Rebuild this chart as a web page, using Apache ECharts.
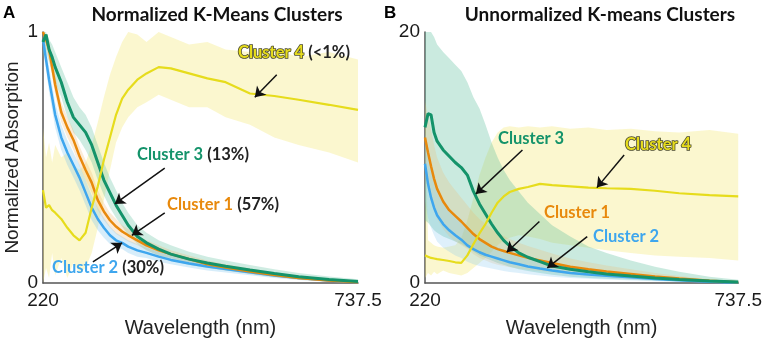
<!DOCTYPE html>
<html>
<head>
<meta charset="utf-8">
<script src="https://cdn.jsdelivr.net/npm/echarts@6/dist/echarts.min.js"></script>
<style>
  html, body { margin: 0; padding: 0; background: #fff; }
  #chart { width: 765px; height: 344px; }
</style>
</head>
<body>
<div id="chart"></div>
<script>
// wavelength grid (nm), shared by both panels
const wl = [220, 225, 230, 235, 240, 250, 260, 270, 280, 290, 300, 310, 320, 330, 340, 350, 360, 375, 390, 410, 430, 460, 490, 520, 560, 600, 640, 690, 737.5];
const xTicks = [220, 737.5];
const yTicksA = [0, 1];
const yTicksB = [0, 20];

// panel A - normalized means and bands
const c1A = [1.0, 0.97, 0.93, 0.86, 0.79, 0.68, 0.62, 0.57, 0.505, 0.45, 0.40, 0.33, 0.285, 0.25, 0.225, 0.205, 0.19, 0.17, 0.15, 0.13, 0.115, 0.095, 0.075, 0.062, 0.046, 0.032, 0.02, 0.01, 0.003];
const c1AHi = [1.0, 0.99, 0.96, 0.90, 0.83, 0.72, 0.66, 0.61, 0.545, 0.49, 0.44, 0.37, 0.32, 0.28, 0.255, 0.23, 0.215, 0.19, 0.17, 0.15, 0.13, 0.11, 0.09, 0.075, 0.058, 0.042, 0.028, 0.016, 0.008];
const c1ALo = [0.96, 0.94, 0.89, 0.82, 0.75, 0.64, 0.58, 0.53, 0.465, 0.41, 0.36, 0.29, 0.25, 0.22, 0.195, 0.18, 0.165, 0.15, 0.13, 0.11, 0.10, 0.08, 0.062, 0.05, 0.036, 0.024, 0.013, 0.005, 0.0];

const c2A = [0.97, 0.89, 0.81, 0.74, 0.67, 0.58, 0.52, 0.47, 0.42, 0.36, 0.30, 0.255, 0.22, 0.19, 0.17, 0.16, 0.145, 0.13, 0.12, 0.105, 0.092, 0.078, 0.066, 0.056, 0.043, 0.03, 0.02, 0.01, 0.003];
const c2AHi = [1.0, 0.93, 0.86, 0.79, 0.72, 0.63, 0.57, 0.52, 0.47, 0.41, 0.35, 0.30, 0.26, 0.225, 0.20, 0.185, 0.17, 0.155, 0.14, 0.125, 0.11, 0.095, 0.082, 0.07, 0.055, 0.04, 0.028, 0.016, 0.008];
const c2ALo = [0.93, 0.85, 0.76, 0.69, 0.62, 0.53, 0.47, 0.42, 0.37, 0.31, 0.25, 0.21, 0.18, 0.155, 0.14, 0.135, 0.12, 0.105, 0.10, 0.085, 0.075, 0.062, 0.05, 0.042, 0.031, 0.02, 0.012, 0.005, 0.0];

const c3A = [0.96, 0.99, 0.93, 0.90, 0.86, 0.80, 0.72, 0.66, 0.63, 0.60, 0.55, 0.48, 0.41, 0.36, 0.31, 0.27, 0.23, 0.185, 0.16, 0.135, 0.115, 0.095, 0.08, 0.067, 0.052, 0.038, 0.025, 0.014, 0.006];
const c3AHi = [1.0, 1.0, 0.97, 0.95, 0.92, 0.86, 0.80, 0.74, 0.70, 0.67, 0.62, 0.55, 0.48, 0.42, 0.37, 0.32, 0.28, 0.23, 0.20, 0.17, 0.15, 0.125, 0.105, 0.09, 0.072, 0.055, 0.04, 0.026, 0.015];
const c3ALo = [0.90, 0.92, 0.88, 0.84, 0.80, 0.74, 0.66, 0.60, 0.57, 0.53, 0.48, 0.41, 0.35, 0.30, 0.26, 0.225, 0.19, 0.155, 0.13, 0.11, 0.09, 0.072, 0.06, 0.05, 0.037, 0.025, 0.015, 0.007, 0.0];

const c4A = [0.37, 0.30, 0.31, 0.29, 0.28, 0.255, 0.22, 0.19, 0.17, 0.20, 0.30, 0.385, 0.49, 0.58, 0.67, 0.735, 0.77, 0.81, 0.835, 0.86, 0.855, 0.835, 0.815, 0.80, 0.755, 0.745, 0.73, 0.71, 0.69];
const c4AHi = [0.62, 0.50, 0.56, 0.48, 0.55, 0.50, 0.52, 0.47, 0.45, 0.48, 0.55, 0.64, 0.74, 0.83, 0.90, 0.96, 1.0, 0.99, 0.96, 1.0, 0.98, 0.95, 0.96, 0.93, 0.92, 0.93, 0.90, 0.92, 0.89];
const c4ALo = [0.0, 0.06, 0.02, 0.12, 0.03, 0.10, 0.02, 0.08, 0.04, 0.06, 0.12, 0.22, 0.33, 0.45, 0.56, 0.62, 0.66, 0.70, 0.72, 0.75, 0.73, 0.70, 0.70, 0.66, 0.63, 0.58, 0.55, 0.52, 0.48];

// panel B - unnormalized means and bands
const c1B = [11.6, 10.4, 9.3, 8.3, 7.5, 6.5, 5.8, 5.35, 4.9, 4.4, 3.9, 3.5, 3.2, 2.9, 2.7, 2.55, 2.4, 2.2, 2.0, 1.8, 1.6, 1.3, 1.1, 0.92, 0.72, 0.52, 0.35, 0.18, 0.05];
const c1BHi = [14.5, 13.3, 12.2, 11.0, 10.0, 8.8, 8.0, 7.4, 6.8, 6.2, 5.6, 5.1, 4.7, 4.3, 4.0, 3.75, 3.5, 3.2, 2.95, 2.65, 2.35, 1.95, 1.65, 1.4, 1.1, 0.8, 0.55, 0.3, 0.1];
const c1BLo = [8.5, 7.5, 6.5, 5.8, 5.1, 4.3, 3.7, 3.3, 3.0, 2.7, 2.3, 2.0, 1.8, 1.6, 1.45, 1.35, 1.25, 1.15, 1.05, 0.95, 0.85, 0.7, 0.58, 0.48, 0.36, 0.25, 0.15, 0.07, 0.0];

const c2B = [9.5, 7.9, 6.8, 6.0, 5.4, 4.7, 4.2, 3.8, 3.45, 3.0, 2.7, 2.45, 2.25, 2.1, 1.95, 1.8, 1.65, 1.5, 1.32, 1.15, 1.0, 0.8, 0.68, 0.58, 0.45, 0.32, 0.22, 0.1, 0.02];
const c2BHi = [12.0, 10.5, 9.2, 8.2, 7.5, 6.6, 5.9, 5.4, 4.9, 4.4, 4.0, 3.6, 3.3, 3.05, 2.85, 2.65, 2.45, 2.2, 2.0, 1.75, 1.55, 1.25, 1.05, 0.9, 0.7, 0.5, 0.35, 0.18, 0.06];
const c2BLo = [6.5, 5.2, 4.4, 3.8, 3.3, 2.8, 2.5, 2.2, 2.0, 1.7, 1.5, 1.35, 1.25, 1.15, 1.05, 0.95, 0.88, 0.8, 0.7, 0.6, 0.5, 0.4, 0.33, 0.27, 0.2, 0.14, 0.09, 0.04, 0.0];

const c3B = [12.4, 13.5, 13.4, 12.0, 11.3, 10.6, 10.1, 9.6, 9.2, 8.6, 7.3, 6.3, 5.5, 4.7, 4.0, 3.4, 2.95, 2.4, 2.05, 1.7, 1.35, 1.1, 0.9, 0.72, 0.55, 0.4, 0.28, 0.16, 0.08];
const c3BHi = [20, 20, 20, 19.6, 19.0, 18.4, 17.9, 17.4, 16.9, 16.0, 14.8, 13.9, 12.6, 11.2, 10.0, 9.0, 8.2, 7.3, 6.4, 5.5, 4.6, 3.7, 2.9, 2.4, 1.8, 1.3, 0.9, 0.5, 0.25];
const c3BLo = [5.0, 4.8, 4.5, 4.2, 4.0, 3.7, 3.5, 3.3, 3.1, 2.8, 2.5, 2.2, 2.0, 1.8, 1.6, 1.45, 1.3, 1.1, 0.95, 0.8, 0.65, 0.5, 0.4, 0.33, 0.25, 0.18, 0.12, 0.06, 0.0];

const c4B = [2.2, 2.1, 2.0, 1.95, 1.9, 1.83, 1.75, 1.65, 1.6, 2.2, 3.1, 3.95, 4.7, 5.6, 6.4, 6.9, 7.25, 7.5, 7.65, 7.9, 7.8, 7.7, 7.6, 7.55, 7.5, 7.35, 7.15, 7.0, 6.9];
const c4BHi = [14.8, 3.4, 3.2, 3.0, 2.9, 2.8, 2.9, 3.0, 3.6, 5.0, 6.8, 8.6, 10.0, 11.2, 12.0, 12.4, 12.5, 12.4, 12.5, 12.4, 12.5, 12.3, 12.4, 12.2, 12.3, 12.1, 12.0, 12.2, 11.9];
const c4BLo = [0.4, 0.8, 0.6, 0.9, 0.7, 1.0, 0.8, 0.7, 0.6, 0.8, 1.2, 1.6, 2.0, 2.5, 3.0, 3.4, 3.6, 3.8, 3.7, 3.5, 3.2, 3.0, 2.8, 2.6, 2.4, 2.2, 2.1, 2.0, 1.8];

// annotation arrows [from, to] in data coords
const arrowsA = {
  c4: [[604, 0.83], [568, 0.74]],
  c3: [[420, 0.458], [338, 0.315]],
  c1: [[420, 0.279], [366, 0.19]],
  c2: [[302, 0.084], [350, 0.16]]
};
const arrowsB = {
  c3: [[381, 10.6], [304, 7.1]],
  c4: [[549, 10.2], [504, 7.6]],
  c1: [[409, 4.9], [355, 2.45]],
  c2: [[488, 3.7], [422, 1.2]]
};

const COL = { c1: '#e8890c', c2: '#3ea6ee', c3: '#14936a', c4: '#e6dc1c' };
const BAND = { c1: '#f0b060', c2: '#7cc4f0', c3: '#5fbf9f', c4: '#f2e66b' };

const chart = echarts.init(document.getElementById('chart'));

function band(idx, lo, hi, color, op) {
  return {
    type: 'custom', xAxisIndex: idx, yAxisIndex: idx, silent: true, z: 1, clip: true,
    data: wl.map((w, i) => [w, lo[i], hi[i]]),
    encode: { x: 0, y: [1, 2] },
    renderItem: function (params, api) {
      if (params.dataIndex !== 0) return;
      const pts = [];
      for (let i = 0; i < wl.length; i++) pts.push(api.coord([wl[i], hi[i]]));
      for (let i = wl.length - 1; i >= 0; i--) pts.push(api.coord([wl[i], lo[i]]));
      return { type: 'polygon', shape: { points: pts }, style: { fill: color, opacity: op } };
    }
  };
}

function mean(idx, vals, color, width, arrow) {
  return {
    type: 'line', xAxisIndex: idx, yAxisIndex: idx, z: 3,
    data: wl.map((w, i) => [w, vals[i]]),
    showSymbol: false, smooth: false,
    lineStyle: { color: color, width: width },
    markLine: {
      silent: true, symbol: ['none', 'arrow'], symbolSize: 10,
      label: { show: false },
      lineStyle: { color: '#111', width: 1.5, type: 'solid' },
      data: [[{ coord: arrow[0] }, { coord: arrow[1] }]]
    }
  };
}

function xAx(idx) {
  return {
    gridIndex: idx, type: 'value', min: 220, max: 737.5,
    axisLine: { show: true, onZero: false, lineStyle: { color: '#555', width: 1.5 } },
    axisTick: { show: false }, splitLine: { show: false },
    axisLabel: { customValues: xTicks, color: '#1a1a1a', fontSize: 19, fontFamily: 'Liberation Sans', margin: 8 },
    name: 'Wavelength (nm)', nameLocation: 'middle', nameGap: 35,
    nameTextStyle: { fontSize: 20, color: '#222', fontFamily: 'Liberation Sans' }
  };
}

function yAx(idx, max, ticks, name) {
  return {
    gridIndex: idx, type: 'value', min: 0, max: max,
    axisLine: { show: true, onZero: false, lineStyle: { color: '#555', width: 1.5 } },
    axisTick: { show: false }, splitLine: { show: false },
    axisLabel: { customValues: ticks, color: '#1a1a1a', fontSize: 19, fontFamily: 'Liberation Sans', margin: 5 },
    name: name, nameLocation: 'middle', nameGap: 21,
    nameTextStyle: { fontSize: 19, color: '#222', fontFamily: 'Liberation Sans' }
  };
}

const lbl = { fontFamily: 'Lato', fontWeight: 'bold', fontSize: 16.5 };
function tag(x, y, key, extra) {
  const rich = {
    c: Object.assign({ fill: COL[key] }, lbl),
    k: Object.assign({ fill: '#222' }, lbl)
  };
  if (key === 'c4') { rich.c.stroke = '#4a4a30'; rich.c.lineWidth = 1.6; }
  return {
    type: 'text', x: x, y: y, z: 100,
    style: { text: '{c|Cluster ' + key.slice(1) + '}' + (extra ? '{k| ' + extra + '}' : ''), rich: rich, verticalAlign: 'middle', align: 'left' }
  };
}

const titleFont = { fontFamily: 'Lato', fontWeight: 'bold', fontSize: 19, fill: '#111' };

chart.setOption({
  animation: false,
  grid: [
    { left: 43, top: 32, width: 315, height: 251 },
    { left: 425, top: 32, width: 315, height: 251 }
  ],
  xAxis: [xAx(0), xAx(1)],
  yAxis: [yAx(0, 1, yTicksA, 'Normalized Absorption'), yAx(1, 20, yTicksB, '')],
  series: [
    band(0, c4ALo, c4AHi, BAND.c4, 0.32),
    band(0, c3ALo, c3AHi, BAND.c3, 0.3),
    band(0, c1ALo, c1AHi, BAND.c1, 0.25),
    band(0, c2ALo, c2AHi, BAND.c2, 0.3),
    mean(0, c2A, COL.c2, 2.5, arrowsA.c2),
    mean(0, c1A, COL.c1, 2.5, arrowsA.c1),
    mean(0, c3A, COL.c3, 3, arrowsA.c3),
    mean(0, c4A, COL.c4, 2.2, arrowsA.c4),

    band(1, c4BLo, c4BHi, BAND.c4, 0.32),
    band(1, c3BLo, c3BHi, BAND.c3, 0.33),
    band(1, c1BLo, c1BHi, BAND.c1, 0.22),
    band(1, c2BLo, c2BHi, BAND.c2, 0.25),
    mean(1, c2B, COL.c2, 2.5, arrowsB.c2),
    mean(1, c1B, COL.c1, 2.5, arrowsB.c1),
    mean(1, c3B, COL.c3, 3, arrowsB.c3),
    mean(1, c4B, COL.c4, 2.2, arrowsB.c4)
  ],
  graphic: [
    { type: 'text', x: 3, y: 13, style: { text: 'A', fontFamily: 'Liberation Sans', fontWeight: 'bold', fontSize: 17, fill: '#000', verticalAlign: 'middle' } },
    { type: 'text', x: 384, y: 13, style: { text: 'B', fontFamily: 'Liberation Sans', fontWeight: 'bold', fontSize: 17, fill: '#000', verticalAlign: 'middle' } },
    { type: 'text', x: 217, y: 15, style: Object.assign({ text: 'Normalized K-Means Clusters', align: 'center', verticalAlign: 'middle' }, titleFont) },
    { type: 'text', x: 600, y: 15, style: Object.assign({ text: 'Unnormalized K-means Clusters', align: 'center', verticalAlign: 'middle' }, titleFont) },
    tag(238, 53, 'c4', '(<1%)'),
    tag(137, 155, 'c3', '(13%)'),
    tag(167, 205, 'c1', '(57%)'),
    tag(52, 268, 'c2', '(30%)'),
    tag(498, 139, 'c3'),
    tag(625, 145, 'c4'),
    tag(544, 213, 'c1'),
    tag(593, 237, 'c2')
  ]
});
</script>
</body>
</html>
